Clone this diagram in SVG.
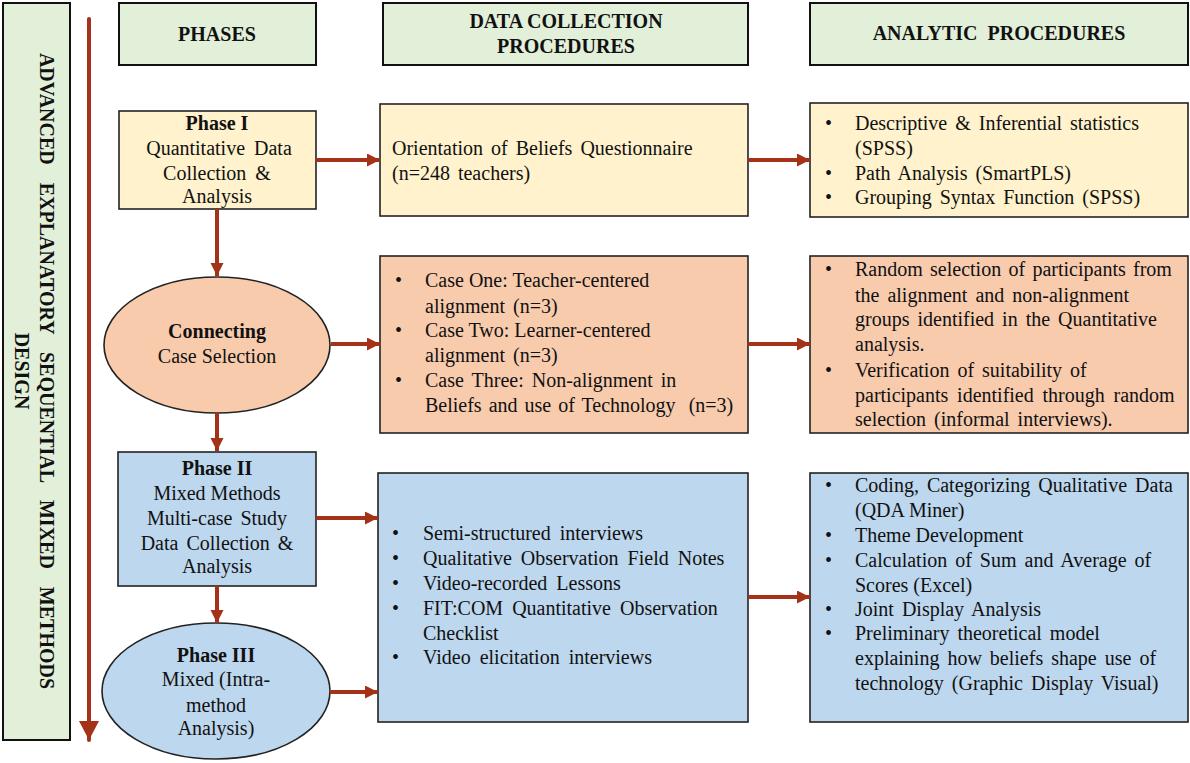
<svg xmlns="http://www.w3.org/2000/svg" width="1190" height="763" viewBox="0 0 1190 763">
<style>
text{font-family:"Liberation Serif","Times New Roman",serif;font-size:20px;fill:#111}
.b{font-weight:bold}
.c{text-anchor:middle}
.hdr{fill:#e2efd9;stroke:#111;stroke-width:2}
.y{fill:#fff2cc;stroke:#222;stroke-width:1.6}
.o{fill:#f8cbad;stroke:#222;stroke-width:1.6}
.bl{fill:#bdd7ee;stroke:#222;stroke-width:1.6}
.conn line{stroke:#a33218;stroke-width:4}
</style>
<defs>
<marker id="ah" markerUnits="userSpaceOnUse" markerWidth="14" markerHeight="14" refX="13" refY="6.5" orient="auto">
<path d="M0,0 L13,6.5 L0,13 z" fill="#a33218"/>
</marker>
<marker id="ahb" markerUnits="userSpaceOnUse" markerWidth="20" markerHeight="22" refX="19" refY="10" orient="auto">
<path d="M0,0 L19,10 L0,20 z" fill="#a33218"/>
</marker>
</defs>
<rect width="1190" height="763" fill="#fff"/>

<g id="design-label">
<rect x="3" y="3" width="67" height="737" class="hdr" stroke-width="1.6"/>
<g transform="translate(40,371) rotate(90)">
<text class="b c" x="0" y="0" word-spacing="13">ADVANCED EXPLANATORY SEQUENTIAL MIXED METHODS</text>
<text class="b c" x="0" y="25">DESIGN</text>
</g>
</g>

<g id="hdr-phases">
<rect x="119" y="3" width="197" height="62" class="hdr"/>
<text class="b c" x="217" y="41">PHASES</text>
</g>
<g id="hdr-data">
<rect x="383" y="3" width="365" height="62" class="hdr"/>
<text class="b c" x="566" y="28">DATA COLLECTION</text>
<text class="b c" x="566" y="53">PROCEDURES</text>
</g>
<g id="hdr-analytic">
<rect x="810" y="3" width="378" height="62" class="hdr"/>
<text class="b c" x="999" y="40" word-spacing="5">ANALYTIC PROCEDURES</text>
</g>

<g id="phase1">
<rect x="119" y="111" width="197" height="98" class="y"/>
<text class="b c" x="217" y="130">Phase I</text>
<text class="c" x="219" y="155" word-spacing="4">Quantitative Data</text>
<text class="c" x="217" y="180" word-spacing="4">Collection &amp;</text>
<text class="c" x="217" y="203">Analysis</text>
</g>
<g id="dc1">
<rect x="380" y="104" width="368" height="112" class="y"/>
<text x="392" y="155" word-spacing="3">Orientation of Beliefs Questionnaire</text>
<text x="392" y="180" word-spacing="3">(n=248 teachers)</text>
</g>
<g id="an1">
<rect x="810" y="103" width="378" height="114" class="y"/>
<text x="825" y="130">•</text><text x="855" y="130" word-spacing="3">Descriptive &amp; Inferential statistics</text>
<text x="855" y="155">(SPSS)</text>
<text x="825" y="180">•</text><text x="855" y="180" word-spacing="3">Path Analysis (SmartPLS)</text>
<text x="825" y="204">•</text><text x="855" y="204" word-spacing="3">Grouping Syntax Function (SPSS)</text>
</g>

<g id="connecting">
<ellipse cx="217" cy="345" rx="113" ry="68" class="o" stroke="#111" stroke-width="2"/>
<text class="b c" x="217" y="338">Connecting</text>
<text class="c" x="217" y="363">Case Selection</text>
</g>
<g id="dc2">
<rect x="380" y="256" width="368" height="177" class="o"/>
<text x="395" y="287">•</text><text x="425" y="287">Case One: Teacher-centered</text>
<text x="425" y="313" word-spacing="3">alignment (n=3)</text>
<text x="395" y="337">•</text><text x="425" y="337">Case Two: Learner-centered</text>
<text x="425" y="362" word-spacing="3">alignment (n=3)</text>
<text x="395" y="387">•</text><text x="425" y="387" word-spacing="3">Case Three: Non-alignment in</text>
<text x="425" y="412" word-spacing="2">Beliefs and use of Technology <tspan dx="6">(n=3)</tspan></text>
</g>
<g id="an2">
<rect x="810" y="256" width="378" height="177" class="o"/>
<text x="825" y="276">•</text><text x="855" y="276" word-spacing="2.3">Random selection of participants from</text>
<text x="855" y="302" word-spacing="3">the alignment and non-alignment</text>
<text x="855" y="326" word-spacing="3">groups identified in the Quantitative</text>
<text x="855" y="351">analysis.</text>
<text x="825" y="377">•</text><text x="855" y="377" word-spacing="3">Verification of suitability of</text>
<text x="855" y="402" word-spacing="3.8">participants identified through random</text>
<text x="855" y="426" word-spacing="3">selection (informal interviews).</text>
</g>

<g id="phase2">
<rect x="118" y="452" width="198" height="134" class="bl" stroke="#111" stroke-width="2"/>
<text class="b c" x="217" y="475">Phase II</text>
<text class="c" x="217" y="500">Mixed Methods</text>
<text class="c" x="217" y="525" word-spacing="3">Multi-case Study</text>
<text class="c" x="217" y="550" word-spacing="3">Data Collection &amp;</text>
<text class="c" x="217" y="573">Analysis</text>
</g>
<g id="phase3">
<ellipse cx="216" cy="691" rx="114" ry="68" class="bl" stroke="#111" stroke-width="2"/>
<text class="b c" x="216" y="662">Phase III</text>
<text class="c" x="216" y="686">Mixed (Intra-</text>
<text class="c" x="216" y="712">method</text>
<text class="c" x="216" y="735">Analysis)</text>
</g>
<g id="dc3">
<rect x="378" y="473" width="370" height="249" class="bl"/>
<text x="392" y="540">•</text><text x="423" y="540" word-spacing="4">Semi-structured interviews</text>
<text x="392" y="565">•</text><text x="423" y="565" word-spacing="4">Qualitative Observation Field Notes</text>
<text x="392" y="590">•</text><text x="423" y="590" word-spacing="4">Video-recorded Lessons</text>
<text x="392" y="615">•</text><text x="423" y="615" word-spacing="4">FIT:COM Quantitative Observation</text>
<text x="423" y="640">Checklist</text>
<text x="392" y="664">•</text><text x="423" y="664" word-spacing="4">Video elicitation interviews</text>
</g>
<g id="an3">
<rect x="810" y="473" width="378" height="249" class="bl"/>
<text x="825" y="492">•</text><text x="855" y="492" word-spacing="3">Coding, Categorizing Qualitative Data</text>
<text x="855" y="517">(QDA Miner)</text>
<text x="825" y="542">•</text><text x="855" y="542">Theme Development</text>
<text x="825" y="567">•</text><text x="855" y="567" word-spacing="3">Calculation of Sum and Average of</text>
<text x="855" y="592">Scores (Excel)</text>
<text x="825" y="616">•</text><text x="855" y="616" word-spacing="3">Joint Display Analysis</text>
<text x="825" y="640">•</text><text x="855" y="640" word-spacing="3">Preliminary theoretical model</text>
<text x="855" y="665" word-spacing="3">explaining how beliefs shape use of</text>
<text x="855" y="690" word-spacing="3">technology (Graphic Display Visual)</text>
</g>

<g id="connectors" class="conn">
<line x1="89" y1="19" x2="89" y2="740" stroke-width="5" stroke-linecap="round" marker-end="url(#ahb)"/>
<line x1="316" y1="160" x2="380" y2="160" marker-end="url(#ah)"/>
<line x1="748" y1="160" x2="810" y2="160" marker-end="url(#ah)"/>
<line x1="217" y1="209" x2="217" y2="276" marker-end="url(#ah)"/>
<line x1="331" y1="344" x2="380" y2="344" marker-end="url(#ah)"/>
<line x1="748" y1="344" x2="810" y2="344" marker-end="url(#ah)"/>
<line x1="217" y1="413" x2="217" y2="451" marker-end="url(#ah)"/>
<line x1="217" y1="586" x2="217" y2="623" marker-end="url(#ah)"/>
<line x1="316" y1="518" x2="378" y2="518" marker-end="url(#ah)"/>
<line x1="330" y1="692" x2="378" y2="692" marker-end="url(#ah)"/>
<line x1="748" y1="597" x2="810" y2="597" marker-end="url(#ah)"/>
</g>
</svg>
